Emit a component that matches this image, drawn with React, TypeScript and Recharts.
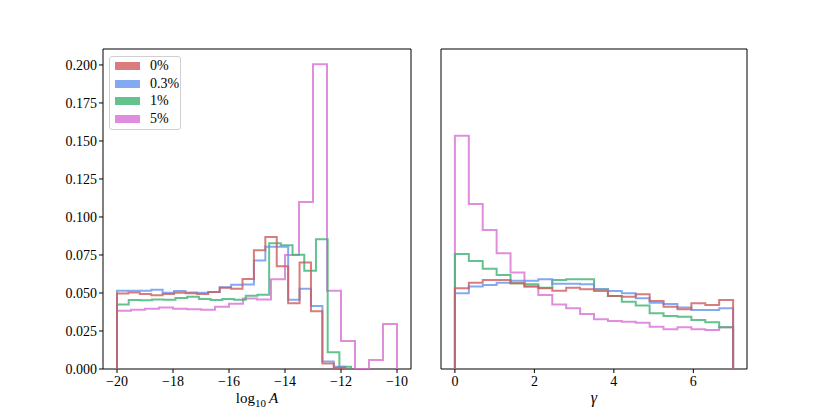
import { Label, Line, LineChart, ReferenceArea, XAxis, YAxis } from "recharts";

const FONT = "'Liberation Serif', 'DejaVu Serif', serif";

const seriesNames = ["0%", "0.3%", "1%", "5%"];
// indianred, cornflowerblue, mediumseagreen, orchid (drawn at alpha 0.8)
const seriesColors = ["#cd5c5c", "#6495ed", "#3cb371", "#da70d6"];

// log10 A: every run was binned on its own range, 20 bins each
const logARanges = [
  [-20, -11.85],
  [-20, -11.85],
  [-20, -11.64],
  [-20, -10],
];
const logA0 = [
  0.0496, 0.0504, 0.0493, 0.0485, 0.0493, 0.0502, 0.0498, 0.0493, 0.0507, 0.0535,
  0.0528, 0.0592, 0.0781, 0.0868, 0.0676, 0.0433, 0.07, 0.038, 0.0037, 0.0009,
];
const logA03 = [
  0.0515, 0.0515, 0.0515, 0.0522, 0.0502, 0.0513, 0.0504, 0.0502, 0.0507, 0.0537,
  0.0555, 0.0556, 0.0714, 0.0805, 0.0805, 0.0456, 0.0528, 0.0415, 0.005, 0.0015,
];
const logA1 = [
  0.0425, 0.0454, 0.0452, 0.0458, 0.0456, 0.0467, 0.0476, 0.0461, 0.0454, 0.0461,
  0.0456, 0.0482, 0.0489, 0.0827, 0.0814, 0.0752, 0.0646, 0.0853, 0.011, 0.0015,
];
const logA5 = [
  0.0384, 0.039, 0.0397, 0.0404, 0.0397, 0.0393, 0.039, 0.041, 0.043, 0.0463,
  0.0458, 0.059, 0.075, 0.1099, 0.2005, 0.0515, 0.0184, 0, 0.0059, 0.0296,
];

// gamma: shared range for all runs
const gammaRange = [0, 7];
const gamma0 = [
  0.0531, 0.0568, 0.0586, 0.0586, 0.0564, 0.0542, 0.0531, 0.0515, 0.0535, 0.0524,
  0.0513, 0.048, 0.0476, 0.0491, 0.0447, 0.041, 0.0393, 0.0432, 0.0421, 0.0454,
];
const gamma03 = [
  0.0498, 0.0542, 0.0553, 0.0568, 0.0581, 0.0581, 0.059, 0.0561, 0.0561, 0.0557,
  0.0524, 0.0513, 0.0498, 0.0465, 0.0436, 0.0428, 0.0404, 0.0388, 0.0388, 0.0399,
];
const gamma1 = [
  0.0757, 0.0711, 0.066, 0.0618, 0.0564, 0.0557, 0.0535, 0.0586, 0.059, 0.059,
  0.0524, 0.048, 0.0443, 0.0417, 0.0366, 0.0349, 0.0344, 0.0322, 0.0307, 0.0274,
];
const gamma5 = [
  0.1535, 0.1086, 0.0914, 0.0761, 0.0634, 0.0542, 0.0487, 0.0425, 0.0399, 0.0362,
  0.0327, 0.0316, 0.0311, 0.0305, 0.0278, 0.0261, 0.0274, 0.0261, 0.0257, 0.0274,
];

const logATicks = [-20, -18, -16, -14, -12, -10];
const gammaTicks = [0, 2, 4, 6];
const yTicks = [0, 0.025, 0.05, 0.075, 0.1, 0.125, 0.15, 0.175, 0.2];
const Y_MAX = 0.2105;

// matplotlib histtype="step" outline: up at the first edge, flat tops, down at the last edge
function stepOutline(range: number[], heights: number[]) {
  const [lo, hi] = range;
  const w = (hi - lo) / heights.length;
  const pts = [{ x: lo, y: 0 }];
  heights.forEach((h, i) => pts.push({ x: lo + i * w, y: h }));
  pts.push({ x: hi, y: heights[heights.length - 1] });
  pts.push({ x: hi, y: 0 });
  return pts;
}

const fmtTick = (v: number) => (v < 0 ? `\u2212${Math.abs(v)}` : String(v));

const tickStyle = { fill: "#000", fontSize: 14, fontFamily: FONT };

// drawn last-to-first so the 0% run sits on top
const DRAW_ORDER = [3, 2, 1, 0];

function Panel({
  left,
  width,
  marginLeft,
  marginRight,
  yAxisWidth,
  domain,
  ticks,
  series,
  showYLabels,
  xLabel,
}: {
  left: number;
  width: number;
  marginLeft: number;
  marginRight: number;
  yAxisWidth: number;
  domain: [number, number];
  ticks: number[];
  series: { x: number; y: number }[][];
  showYLabels: boolean;
  xLabel: (cx: number, y: number) => JSX.Element;
}) {
  return (
    <div style={{ position: "absolute", left, top: 0 }}>
      <LineChart
        width={width}
        height={415}
        margin={{ top: 49, right: marginRight, bottom: 16, left: marginLeft }}
      >
        <XAxis
          type="number"
          dataKey="x"
          domain={domain}
          ticks={ticks}
          allowDataOverflow
          tickFormatter={fmtTick}
          tick={tickStyle}
          tickSize={4}
          tickMargin={3}
          tickLine={{ stroke: "#000" }}
          axisLine={false}
          height={30}
        >
          <Label
            content={(props: any) => {
              const vb = props.viewBox || {};
              return xLabel(vb.x + vb.width / 2, vb.y + 34);
            }}
          />
        </XAxis>
        <YAxis
          type="number"
          dataKey="y"
          domain={[0, Y_MAX]}
          ticks={yTicks}
          allowDataOverflow
          tickFormatter={(v: number) => v.toFixed(3)}
          tick={showYLabels ? tickStyle : false}
          tickSize={4}
          tickMargin={2}
          tickLine={{ stroke: "#000" }}
          axisLine={false}
          width={yAxisWidth}
        />
        {DRAW_ORDER.map((i) => (
          <Line
            key={seriesNames[i]}
            data={series[i]}
            dataKey="y"
            type="stepAfter"
            stroke={seriesColors[i]}
            strokeOpacity={0.8}
            strokeWidth={2}
            dot={false}
            activeDot={false}
            isAnimationActive={false}
          />
        ))}
        <ReferenceArea
          x1={domain[0]}
          x2={domain[1]}
          y1={0}
          y2={Y_MAX}
          fill="none"
          stroke="#000"
          strokeWidth={1}
          ifOverflow="visible"
        />
      </LineChart>
    </div>
  );
}

function LegendBox() {
  return (
    <div
      style={{
        position: "absolute",
        left: 109,
        top: 56,
        width: 70,
        height: 72,
        border: "1px solid #d0d0d0",
        borderRadius: 3,
        background: "rgba(255,255,255,0.8)",
        fontFamily: FONT,
        fontSize: 14,
      }}
    >
      {seriesNames.map((name, i) => (
        <div key={name}>
          <div
            style={{
              position: "absolute",
              left: 5,
              top: 5 + i * 17.6,
              width: 25,
              height: 8,
              background: seriesColors[i],
              opacity: 0.8,
            }}
          />
          <div
            style={{
              position: "absolute",
              left: 40,
              top: i * 17.6,
              lineHeight: "18px",
              color: "#000",
            }}
          >
            {name}
          </div>
        </div>
      ))}
    </div>
  );
}

export default function App() {
  const logASeries = [logA0, logA03, logA1, logA5].map((h, i) => stepOutline(logARanges[i], h));
  const gammaSeries = [gamma0, gamma03, gamma1, gamma5].map((h) => stepOutline(gammaRange, h));

  return (
    <div
      style={{
        position: "absolute",
        left: 0,
        top: 0,
        width: 830,
        height: 415,
        background: "#fff",
        fontFamily: FONT,
      }}
    >
      <Panel
        left={0}
        width={420}
        marginLeft={43}
        marginRight={9}
        yAxisWidth={60}
        domain={[-20.5, -9.5]}
        ticks={logATicks}
        series={logASeries}
        showYLabels
        xLabel={(cx, y) => (
          <text x={cx} y={y} textAnchor="middle" fontFamily={FONT} fontSize={15} fill="#000">
            <tspan>log</tspan>
            <tspan dy={4} fontSize={11}>
              10
            </tspan>
            <tspan dy={-4} dx={3} fontStyle="italic">
              A
            </tspan>
          </text>
        )}
      />
      <Panel
        left={420}
        width={410}
        marginLeft={11}
        marginRight={83}
        yAxisWidth={10}
        domain={[-0.35, 7.35]}
        ticks={gammaTicks}
        series={gammaSeries}
        showYLabels={false}
        xLabel={(cx, y) => (
          <text x={cx} y={y} textAnchor="middle" fontFamily={FONT} fontSize={16} fontStyle="italic" fill="#000">
            γ
          </text>
        )}
      />
      <LegendBox />
    </div>
  );
}
